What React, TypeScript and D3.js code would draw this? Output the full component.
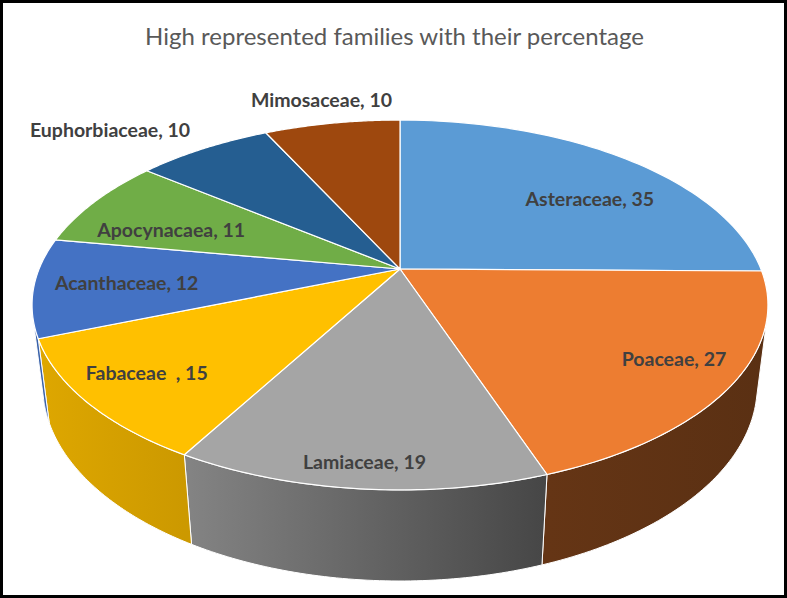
import React from 'react';
import * as d3 from 'd3';

// families and their counts, clockwise from 12 o'clock
const families = ['Asteraceae', 'Poaceae', 'Lamiaceae', 'Fabaceae  ', 'Acanthaceae', 'Apocynacaea', 'Euphorbiaceae', 'Mimosaceae'];
const counts = [35, 27, 19, 15, 12, 11, 10, 10];
const sliceColors = ['#5B9BD5', '#ED7D31', '#A5A5A5', '#FFC000', '#4472C4', '#70AD47', '#255E91', '#9E480E'];

// label placement: fraction of radius and a small turn (degrees) off the mid angle
const labelRadius = [0.71, 0.83, 0.9, 0.82, 0.75, 0.7, 1.32, 1.19];
const labelTurn = [8, -2, 0, 1, 0, -5, -7, 0];

const W = 787;
const H = 598;

// perspective camera for the 3D pie
const cx = 400;
const cy = 269;
const focal = 1614;
const dist = 4.472;
const sinT = 0.493;
const cosT = Math.sqrt(1 - sinT * sinT);
const thickness = 0.2624;

const project = (r: number, theta: number, y = 0): [number, number] => {
  const X = r * Math.sin(theta);
  const Z = -r * Math.cos(theta);
  const yc = y * cosT - Z * sinT;
  const w = y * sinT + Z * cosT;
  const den = dist - w;
  return [cx + (focal * X) / den, cy - (focal * yc) / den];
};

// side shading by angle (lit from the left)
const deg = Math.PI / 180;
const shade = d3.scaleLinear<number>()
  .domain([105 * deg, 160 * deg, 210 * deg, 255 * deg])
  .range([0.38, 0.42, 0.8, 0.88])
  .clamp(true);

const dim = (color: string, k: number) => {
  const c = d3.rgb(color);
  return d3.rgb(c.r * k, c.g * k, c.b * k).formatHex();
};

const App: React.FC = () => {
  const arcs = d3.pie<number>().sort(null).value(d => d)(counts);
  const line = d3.line();

  const visFrom = Math.acos(-1 / (dist * cosT));
  const visTo = 2 * Math.PI - visFrom;

  const arcPoints = (a0: number, a1: number, y: number) =>
    d3.range(0, 61).map(i => project(1, a0 + ((a1 - a0) * i) / 60, y));

  const sides = arcs
    .map((a, i) => {
      const s = Math.max(a.startAngle, visFrom);
      const e = Math.min(a.endAngle, visTo);
      if (s >= e) return null;
      const pts = [...arcPoints(s, e, 0), ...arcPoints(e, s, -thickness)];
      const xs = project(1, s)[0];
      const xe = project(1, e)[0];
      return {
        i,
        d: line(pts) + 'Z',
        x1: xe,
        x2: xs,
        c1: dim(sliceColors[i], shade(e)),
        c2: dim(sliceColors[i], shade(s)),
      };
    })
    .filter(Boolean) as { i: number; d: string; x1: number; x2: number; c1: string; c2: string }[];

  const tops = arcs.map((a, i) => ({
    i,
    d: line([[cx, cy], ...arcPoints(a.startAngle, a.endAngle, 0)]) + 'Z',
  }));

  const labels = arcs.map((a, i) => {
    const mid = (a.startAngle + a.endAngle) / 2 + labelTurn[i] * deg;
    const [x, y] = project(labelRadius[i], mid);
    return { i, x, y, text: `${families[i]}, ${counts[i]}` };
  });

  return (
    <svg width={W} height={H} style={{ position: 'absolute', left: 0, top: 0 }}>
      <rect x={0} y={0} width={W} height={H} fill="#fff" />
      <defs>
        {sides.map(s => (
          <linearGradient key={s.i} id={`side${s.i}`} gradientUnits="userSpaceOnUse" x1={s.x1} y1={0} x2={s.x2} y2={0}>
            <stop offset="0%" stopColor={s.c1} />
            <stop offset="100%" stopColor={s.c2} />
          </linearGradient>
        ))}
      </defs>
      <text
        x={W / 2 + 1}
        y={45}
        textAnchor="middle"
        fontFamily="Lato, 'Open Sans', sans-serif"
        fontSize={24}
        fill="#595959"
      >
        High represented families with their percentage
      </text>
      {sides.map(s => (
        <path key={`s${s.i}`} d={s.d} fill={`url(#side${s.i})`} stroke="#fff" strokeWidth={1} strokeLinejoin="round" />
      ))}
      {tops.map(t => (
        <path key={`t${t.i}`} d={t.d} fill={sliceColors[t.i]} stroke="#fff" strokeWidth={1.2} strokeLinejoin="round" />
      ))}
      {labels.map(l => (
        <text
          key={`l${l.i}`}
          x={l.x}
          y={l.y}
          dy="0.35em"
          textAnchor="middle"
          fontFamily="Lato, 'Open Sans', sans-serif"
          fontWeight="bold"
          fontSize={19.5}
          fill="#404040"
          style={{ whiteSpace: 'pre' }}
        >
          {l.text}
        </text>
      ))}
      <rect x={1.5} y={1.5} width={W - 3} height={H - 3} fill="none" stroke="#000" strokeWidth={3} />
    </svg>
  );
};

export default App;
